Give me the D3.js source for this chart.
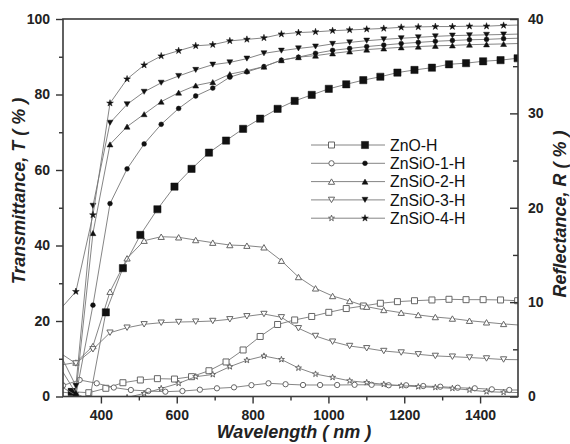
<!DOCTYPE html>
<html>
<head>
<meta charset="utf-8">
<script src="https://d3js.org/d3.v7.min.js"></script>
<style>
body { margin: 0; background: #fff; }
text { font-family: "Liberation Sans", Arial, sans-serif; }
</style>
</head>
<body>
<svg id="viz" width="570" height="444"></svg>
<script>
// wavelength grids (nm) the markers sit on
var wlA = [289, 334, 379, 424, 469, 514, 559, 605, 650, 695, 740, 785, 830, 876, 921, 966, 1011, 1056, 1101, 1146, 1192, 1237, 1282, 1327, 1372, 1417, 1462];
var wlB = [323, 368, 413, 458, 504, 549, 594, 639, 685, 730, 775, 820, 866, 911, 956, 1001, 1047, 1092, 1137, 1182, 1227, 1273, 1318, 1363, 1408, 1454, 1499];
var wlC = [300, 344, 389, 434, 479, 525, 570, 615, 661, 706, 751, 797, 842, 887, 933, 978, 1023, 1069, 1114, 1159, 1205, 1250, 1295, 1341, 1386, 1431, 1477];

var names = ["ZnO-H", "ZnSiO-1-H", "ZnSiO-2-H", "ZnSiO-3-H", "ZnSiO-4-H"];

// transmittance T (%), left axis, filled markers
var tZnO    = [1.2, -2, 22.3, 34.0, 42.8, 49.6, 55.6, 60.3, 64.6, 67.8, 70.9, 73.6, 76.2, 78.3, 79.9, 81.5, 82.7, 83.8, 84.7, 85.8, 86.5, 87.1, 88.0, 88.3, 88.8, 89.1, 89.6];
var tZnSiO1 = [3.0, 0.3, 24.2, 51.1, 60.3, 66.9, 72.1, 76.3, 79.6, 81.7, 84.6, 86.0, 87.4, 89.1, 89.9, 90.9, 91.7, 92.2, 92.7, 93.1, 93.5, 93.8, 94.1, 94.3, 94.5, 94.6, 94.8];
var tZnSiO2 = [8.2, 0.9, 43.3, 66.8, 71.5, 74.8, 78.1, 80.5, 82.4, 83.3, 85.4, 86.3, 87.4, 89.1, 89.9, 90.3, 90.9, 91.4, 91.9, 92.2, 92.5, 92.7, 92.9, 93.0, 93.2, 93.3, 93.4];
var tZnSiO3 = [11.9, 2.8, 50.5, 72.5, 77.4, 80.7, 83.1, 84.9, 86.5, 87.9, 88.5, 89.5, 90.9, 91.6, 92.2, 92.7, 93.4, 93.8, 94.25, 94.6, 94.9, 95.15, 95.4, 95.6, 95.7, 95.8, 95.9];
var tZnSiO4 = [22.7, 27.8, 48.1, 77.7, 84.1, 87.8, 90.2, 91.6, 92.9, 93.2, 94.2, 94.6, 95.0, 96.0, 96.4, 96.6, 96.9, 97.1, 97.3, 97.5, 97.8, 97.9, 98.0, 98.0, 98.1, 98.1, 98.3];

// reflectance R (%), right axis, open markers
var rZnO    = [0.51, 0.40, 0.87, 1.46, 1.75, 1.89, 1.85, 2.10, 2.73, 3.66, 4.93, 6.36, 7.63, 8.11, 8.48, 8.92, 9.32, 9.59, 9.88, 10.05, 10.15, 10.23, 10.30, 10.26, 10.26, 10.23, 10.15];
var rZnSiO1 = [1.17, 1.75, 1.40, 0.95, 0.69, 0.58, 0.51, 0.58, 0.72, 0.87, 0.97, 1.20, 1.40, 1.30, 1.22, 1.22, 1.22, 1.24, 1.24, 1.19, 1.19, 1.11, 1.04, 0.93, 0.87, 0.76, 0.69];
var rZnSiO2 = [3.3, 3.6, 5.35, 11.10, 14.64, 16.51, 16.93, 16.87, 16.58, 16.30, 16.05, 15.98, 15.81, 14.39, 12.66, 11.46, 10.65, 10.12, 9.52, 9.17, 8.88, 8.64, 8.42, 8.26, 8.03, 7.86, 7.69];
var rZnSiO3 = [4.7, 3.5, 5.0, 6.76, 7.29, 7.65, 7.82, 7.89, 7.93, 8.00, 8.18, 8.50, 8.74, 8.39, 7.23, 6.41, 5.81, 5.35, 5.11, 4.82, 4.66, 4.47, 4.30, 4.22, 4.13, 4.03, 3.92];
var rZnSiO4 = [0.5, 0.3, -0.5, -1.2, -0.1, 0.32, 0.85, 1.40, 2.10, 2.33, 3.16, 3.84, 4.29, 3.92, 3.02, 2.38, 2.03, 1.66, 1.48, 1.29, 1.14, 1.04, 0.97, 0.87, 0.69, 0.51, 0.45];

// value at 1500 nm where the line runs on past the last marker
var tEnd = [null, 94.9, 93.5, 96.0, 98.4];
var rEnd = [null, 0.69, 7.58, 3.90, 0.42];

var xTicks = [400, 600, 800, 1000, 1200, 1400];
var xMinor = [500, 700, 900, 1100, 1300];
var tTicks = [0, 20, 40, 60, 80, 100];
var tMinor = [10, 30, 50, 70, 90];
var rTicks = [0, 10, 20, 30, 40];
var rMinor = [5, 15, 25, 35];

var tVals = [tZnO, tZnSiO1, tZnSiO2, tZnSiO3, tZnSiO4];
var rVals = [rZnO, rZnSiO1, rZnSiO2, rZnSiO3, rZnSiO4];
var tWl = [wlB, wlA, wlA, wlA, wlA];
var rWl = [wlB, wlC, wlA, wlA, wlA];
var shapes = ["square", "circle", "triangle", "triangleDown", "star"];

var L = 63, R = 518, T = 19, B = 396.5;
var x = d3.scaleLinear().domain([300, 1500]).range([L, R]);
var yT = d3.scaleLinear().domain([0, 100]).range([B, T]);
var yR = d3.scaleLinear().domain([0, 40]).range([B, T]);

var svg = d3.select("#viz");

svg.append("clipPath").attr("id", "plotclip")
  .append("rect").attr("x", L).attr("y", T).attr("width", R - L).attr("height", B - T);

function symbolPath(shape, filled) {
  var type = {square: d3.symbolSquare, circle: d3.symbolCircle, triangle: d3.symbolTriangle,
              triangleDown: d3.symbolTriangle, star: d3.symbolStar}[shape];
  var size = {square: filled ? 52 : 36, circle: filled ? 18 : 22, triangle: filled ? 15 : 17,
              triangleDown: filled ? 15 : 17, star: filled ? 14 : 11}[shape];
  return d3.symbol().type(type).size(size)();
}
function symTransform(shape, px, py) {
  if (shape == "triangle") return "translate(" + px + "," + (py + 0.9) + ")";
  if (shape == "triangleDown") return "translate(" + px + "," + (py - 0.9) + ") rotate(180)";
  return "translate(" + px + "," + py + ")";
}

var plot = svg.append("g").attr("clip-path", "url(#plotclip)");

function drawSeries(wl, vals, endVal, yScale, shape, filled) {
  var pts = wl.map(function(w, i) { return [w, vals[i]]; });
  var linePts = pts.slice();
  if (endVal != null) linePts.push([1500, endVal]);
  var line = d3.line().x(function(d) { return x(d[0]); }).y(function(d) { return yScale(d[1]); });
  plot.append("path")
    .attr("d", line(linePts))
    .attr("fill", "none")
    .attr("stroke", "#777")
    .attr("stroke-width", 0.9);
  plot.append("g").selectAll("path")
    .data(pts).enter()
    .append("path")
    .attr("d", symbolPath(shape, filled))
    .attr("transform", function(d) { return symTransform(shape, x(d[0]), yScale(d[1])); })
    .attr("fill", filled ? "#111" : "#fff")
    .attr("stroke", filled ? "#111" : "#666")
    .attr("stroke-width", filled ? 0.5 : 1);
}

// reflectance first, transmittance on top
for (var i = 0; i < 5; i++) drawSeries(rWl[i], rVals[i], rEnd[i], yR, shapes[i], false);
for (var i = 0; i < 5; i++) drawSeries(tWl[i], tVals[i], tEnd[i], yT, shapes[i], true);

// axes
function styleAxis(g) {
  g.select(".domain").remove();
  g.selectAll("line").attr("stroke", "#333").attr("stroke-width", 1.4);
  g.selectAll("text").attr("font-family", "Liberation Sans, Arial, sans-serif")
    .attr("font-size", 14).attr("font-weight", "bold").attr("fill", "#222");
}

svg.append("g").attr("transform", "translate(" + L + ",0)")
  .call(d3.axisLeft(yT).tickValues(tTicks).tickSize(7).tickPadding(6).tickFormat(d3.format("d")))
  .call(styleAxis);
svg.append("g").attr("transform", "translate(" + L + ",0)")
  .call(d3.axisLeft(yT).tickValues(tMinor).tickSize(4).tickFormat(""))
  .call(styleAxis);

svg.append("g").attr("transform", "translate(0," + B + ")")
  .call(d3.axisBottom(x).tickValues(xTicks).tickSize(7).tickPadding(7).tickFormat(d3.format("d")))
  .call(styleAxis);
svg.append("g").attr("transform", "translate(0," + B + ")")
  .call(d3.axisBottom(x).tickValues(xMinor).tickSize(4).tickFormat(""))
  .call(styleAxis);

svg.append("g").attr("transform", "translate(" + R + ",0)")
  .call(d3.axisRight(yR).tickValues(rTicks).tickSizeInner(-8).tickSizeOuter(0).tickPadding(10).tickFormat(d3.format("d")))
  .call(styleAxis);
svg.append("g").attr("transform", "translate(" + R + ",0)")
  .call(d3.axisRight(yR).tickValues(rMinor).tickSizeInner(-5).tickSizeOuter(0).tickFormat(""))
  .call(styleAxis);

// frame
svg.append("rect")
  .attr("x", L).attr("y", T).attr("width", R - L).attr("height", B - T)
  .attr("fill", "none").attr("stroke", "#3a3a3a").attr("stroke-width", 1.6);

// axis titles
svg.append("text")
  .attr("x", 294).attr("y", 438)
  .attr("text-anchor", "middle")
  .attr("font-size", 18).attr("font-weight", "bold").attr("font-style", "italic").attr("fill", "#222")
  .text("Wavelength ( nm )");
svg.append("text")
  .attr("transform", "translate(25,191) rotate(-90)")
  .attr("text-anchor", "middle")
  .attr("font-size", 18).attr("font-weight", "bold").attr("font-style", "italic").attr("fill", "#222")
  .text("Transmittance, T ( % )");
svg.append("text")
  .attr("transform", "translate(566,214) rotate(-90)")
  .attr("text-anchor", "middle")
  .attr("font-size", 18).attr("font-weight", "bold").attr("font-style", "italic").attr("fill", "#222")
  .text("Reflectance, R ( % )");

// legend
var legend = svg.append("g");
names.forEach(function(name, i) {
  var cy = 145 + i * 18.3;
  legend.append("line")
    .attr("x1", 311).attr("x2", 385).attr("y1", cy).attr("y2", cy)
    .attr("stroke", "#777").attr("stroke-width", 0.9);
  legend.append("path")
    .attr("d", symbolPath(shapes[i], false))
    .attr("transform", symTransform(shapes[i], 331.5, cy))
    .attr("fill", "#fff").attr("stroke", "#666").attr("stroke-width", 1);
  legend.append("path")
    .attr("d", symbolPath(shapes[i], true))
    .attr("transform", symTransform(shapes[i], 365, cy))
    .attr("fill", "#111").attr("stroke", "#111").attr("stroke-width", 0.5);
  legend.append("text")
    .attr("x", 390).attr("y", cy).attr("dy", "0.36em")
    .attr("font-size", 15.8).attr("fill", "#111")
    .text(name);
});
</script>
</body>
</html>
